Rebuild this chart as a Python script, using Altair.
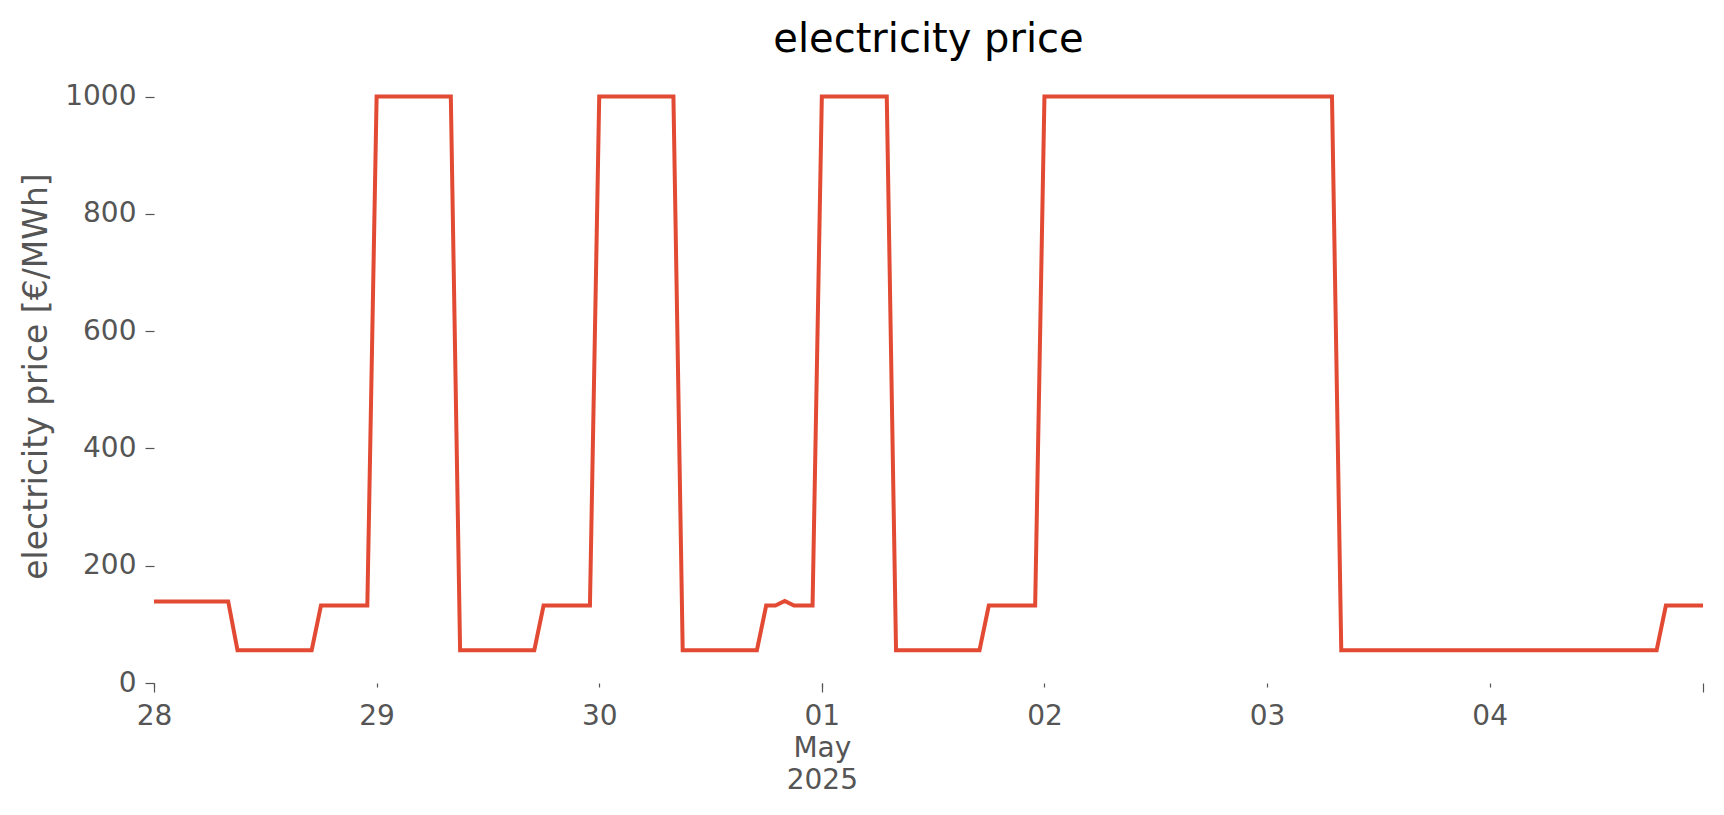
import altair as alt
import pandas as pd

# hourly electricity price [€/MWh], one list per day
apr28 = [139, 139, 139, 139, 139, 139, 139, 139, 139,
         56, 56, 56, 56, 56, 56, 56, 56, 56,
         132, 132, 132, 132, 132, 132]
apr29 = [1000, 1000, 1000, 1000, 1000, 1000, 1000, 1000, 1000,
         56, 56, 56, 56, 56, 56, 56, 56, 56,
         132, 132, 132, 132, 132, 132]
apr30 = [1000, 1000, 1000, 1000, 1000, 1000, 1000, 1000, 1000,
         56, 56, 56, 56, 56, 56, 56, 56, 56,
         132, 132, 140, 132, 132, 132]
may01 = [1000, 1000, 1000, 1000, 1000, 1000, 1000, 1000,
         56, 56, 56, 56, 56, 56, 56, 56, 56, 56,
         132, 132, 132, 132, 132, 132]
may02 = [1000, 1000, 1000, 1000, 1000, 1000, 1000, 1000, 1000, 1000, 1000, 1000,
         1000, 1000, 1000, 1000, 1000, 1000, 1000, 1000, 1000, 1000, 1000, 1000]
may03 = [1000, 1000, 1000, 1000, 1000, 1000, 1000, 1000,
         56, 56, 56, 56, 56, 56, 56, 56, 56, 56, 56, 56, 56, 56, 56, 56]
may04 = [56, 56, 56, 56, 56, 56, 56, 56, 56, 56, 56, 56, 56, 56, 56, 56, 56, 56, 56,
         132, 132, 132, 132, 132]

price = apr28 + apr29 + apr30 + may01 + may02 + may03 + may04
times = pd.date_range("2025-04-28 00:00", periods=len(price), freq="h")

y_ticks = [0, 200, 400, 600, 800, 1000]
day_ticks = [(4, 28), (4, 29), (4, 30), (5, 1), (5, 2), (5, 3), (5, 4)]
major_ticks = [(4, 28, 0), (5, 1, 0), (5, 4, 23)]

df = pd.DataFrame({"time": times, "price": price})

FONT = "DejaVu Sans"
GREY = "#555555"

x_scale = alt.Scale(domain=[alt.DateTime(year=2025, month=4, date=28, hours=0),
                            alt.DateTime(year=2025, month=5, date=4, hours=23)])
y_scale = alt.Scale(domain=[0, 1047], nice=False, zero=True)

minor_vals = [alt.DateTime(year=2025, month=m, date=d) for m, d in day_ticks]
major_vals = [alt.DateTime(year=2025, month=m, date=d, hours=h) for m, d, h in major_ticks]

label_expr = ("date(datum.value) == 1 ? [timeFormat(datum.value, '%d'), 'May', '2025']"
              " : timeFormat(datum.value, '%d')")

y_enc = alt.Y("price:Q", scale=y_scale,
              axis=alt.Axis(values=y_ticks, format="d", title="electricity price [€/MWh]",
                            domain=False, grid=False, tickSize=9, tickWidth=1.2,
                            tickColor=GREY, labelPadding=9, labelFont=FONT,
                            labelFontSize=28, labelColor=GREY,
                            titleFont=FONT, titleFontSize=33, titleColor=GREY,
                            titleFontWeight="normal", titleAngle=270,
                            titleX=-118, titleY=307, titleAlign="center",
                            titleBaseline="middle"))

line = alt.Chart(df).mark_line(color="#E24A33", strokeWidth=4).encode(
    x=alt.X("time:T", scale=x_scale,
            axis=alt.Axis(values=minor_vals, labelExpr=label_expr, title=None,
                          orient="bottom", domain=False, grid=False, tickSize=4,
                          tickWidth=1.2, tickColor=GREY, labelPadding=15,
                          labelFont=FONT, labelFontSize=28, labelColor=GREY,
                          labelLineHeight=32, labelAngle=0, labelFlush=False,
                          labelOverlap=False, labelBound=False)),
    y=y_enc,
)

major = alt.Chart(df).mark_line(strokeOpacity=0).encode(
    x=alt.X("time:T", scale=x_scale,
            axis=alt.Axis(values=major_vals, labels=False, title=None,
                          orient="bottom", domain=False, grid=False, tickSize=9,
                          tickWidth=1.2, tickColor=GREY)),
    y=alt.Y("price:Q", scale=y_scale, axis=None),
)

chart = alt.layer(line, major).resolve_axis(x="independent", y="independent").properties(
    width=1549,
    height=614,
    padding={"left": 146, "top": 61, "right": 13, "bottom": 120},
    autosize=alt.AutoSizeParams(type="none"),
    background="white",
    title=alt.TitleParams("electricity price", font=FONT, fontSize=40,
                          fontWeight="normal", color="black", anchor="middle",
                          baseline="alphabetic", offset=-23, frame="group"),
).configure_view(strokeWidth=0)

chart.save("out.html", embed_options={"renderer": "svg", "actions": False})
